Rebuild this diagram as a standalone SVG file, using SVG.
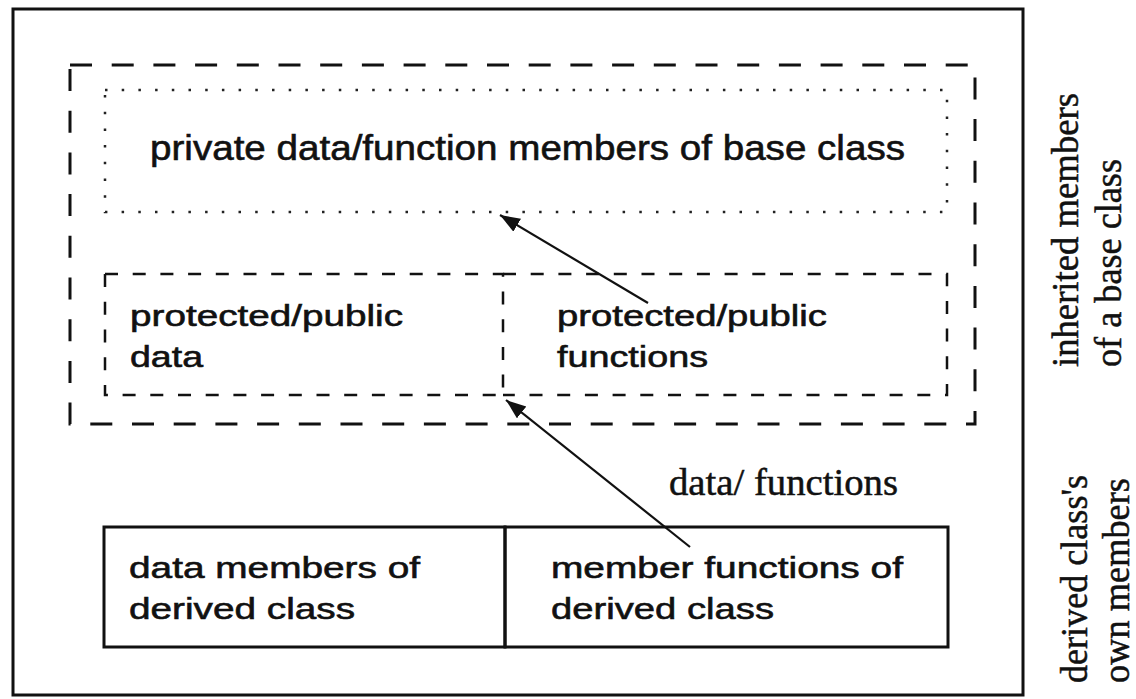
<svg xmlns="http://www.w3.org/2000/svg" width="1136" height="699" viewBox="0 0 1136 699">
<style>
  .sans { font-family: "Liberation Sans", Arial, sans-serif; fill: #111; stroke: #111; stroke-width: 0.6; }
  .serif { font-family: "Liberation Serif", "Times New Roman", serif; fill: #111; stroke: #111; stroke-width: 0.5; }
  .solid { fill: none; stroke: #111; stroke-width: 3; }
  .bigdash { fill: none; stroke: #111; stroke-width: 3; stroke-dasharray: 22 19.7; }
  .smalldash { fill: none; stroke: #111; stroke-width: 2.5; stroke-dasharray: 13 14.7; }
  .dotted { fill: none; stroke: #222; stroke-width: 2.5; stroke-dasharray: 2.5 14.2; }
  .conn { fill: none; stroke: #111; stroke-width: 2.2; }
</style>
<defs>
  <marker id="arrow" markerUnits="userSpaceOnUse" markerWidth="22" markerHeight="16" refX="20" refY="7.5" orient="auto">
    <path d="M0,0 L20,7.5 L0,15 z" fill="#111"/>
  </marker>
</defs>
<rect width="1136" height="699" fill="#fff"/>

<g id="outer-box">
  <rect class="solid" x="13" y="9" width="1010" height="686"/>
</g>

<g id="inherited-members">
  <rect class="bigdash" x="70" y="65" width="905" height="359"/>
</g>

<g id="private-members">
  <rect class="dotted" x="105" y="90" width="842" height="122"/>
  <text class="sans" x="150" y="160" font-size="35" textLength="755" lengthAdjust="spacingAndGlyphs">private data/function members of base class</text>
</g>

<g id="protected-data">
  <rect class="smalldash" x="105" y="274" width="398" height="121"/>
  <text class="sans" x="130" y="326" font-size="30" textLength="273" lengthAdjust="spacingAndGlyphs">protected/public</text>
  <text class="sans" x="130" y="367" font-size="30" textLength="73" lengthAdjust="spacingAndGlyphs">data</text>
</g>

<g id="protected-functions">
  <path class="smalldash" d="M503,274 H947 V395 H503"/>
  <text class="sans" x="557" y="326" font-size="30" textLength="270" lengthAdjust="spacingAndGlyphs">protected/public</text>
  <text class="sans" x="557" y="367" font-size="30" textLength="151" lengthAdjust="spacingAndGlyphs">functions</text>
</g>

<g id="derived-data">
  <rect class="solid" x="104" y="527" width="401" height="120"/>
  <text class="sans" x="129" y="578" font-size="30" textLength="291" lengthAdjust="spacingAndGlyphs">data members of</text>
  <text class="sans" x="129" y="619" font-size="30" textLength="226" lengthAdjust="spacingAndGlyphs">derived class</text>
</g>

<g id="derived-functions">
  <rect class="solid" x="505" y="527" width="443" height="120"/>
  <text class="sans" x="551" y="578" font-size="30" textLength="352" lengthAdjust="spacingAndGlyphs">member functions of</text>
  <text class="sans" x="551" y="619" font-size="30" textLength="223" lengthAdjust="spacingAndGlyphs">derived class</text>
</g>

<g id="connectors">
  <line class="conn" x1="648" y1="303" x2="500" y2="215" marker-end="url(#arrow)"/>
  <line class="conn" x1="690" y1="547" x2="506" y2="400" marker-end="url(#arrow)"/>
  <text class="serif" x="669" y="495" font-size="38" textLength="229" lengthAdjust="spacingAndGlyphs">data/ functions</text>
</g>

<g id="side-labels">
  <text class="serif" font-size="37" transform="translate(1078,367) rotate(-90)" textLength="274" lengthAdjust="spacingAndGlyphs">inherited members</text>
  <text class="serif" font-size="37" transform="translate(1121,367) rotate(-90)" textLength="208" lengthAdjust="spacingAndGlyphs">of a base class</text>
  <text class="serif" font-size="37" transform="translate(1087,683) rotate(-90)" textLength="208" lengthAdjust="spacingAndGlyphs">derived class's</text>
  <text class="serif" font-size="37" transform="translate(1129,683) rotate(-90)" textLength="205" lengthAdjust="spacingAndGlyphs">own members</text>
</g>
</svg>
